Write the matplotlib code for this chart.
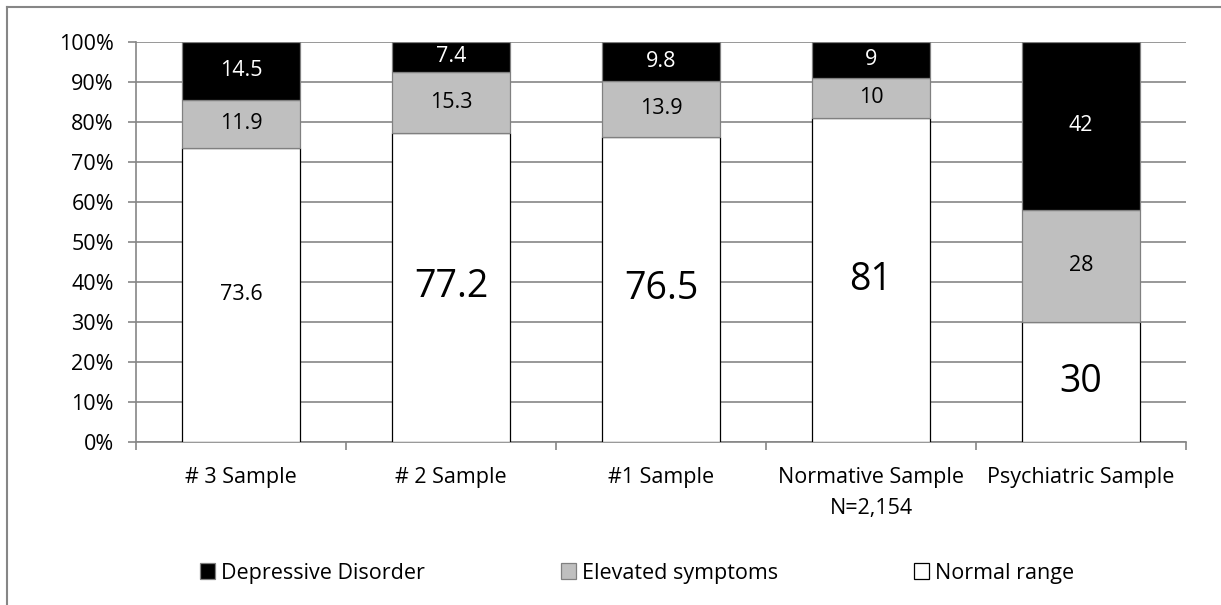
import numpy as np
import matplotlib.pyplot as plt
from matplotlib.patches import Patch
from matplotlib.lines import Line2D

plt.rcParams['font.family'] = ['Open Sans', 'DejaVu Sans']

samples = ['# 3 Sample', '# 2 Sample', '#1 Sample', 'Normative Sample\nN=2,154', 'Psychiatric Sample']
normal = np.array([73.6, 77.2, 76.5, 81, 30])
elevated = np.array([11.9, 15.3, 13.9, 10, 28])
depressive = np.array([14.5, 7.4, 9.8, 9, 42])
big_label = [False, True, True, True, True]

# 100% stacked: scale every column to its own total
total = normal + elevated + depressive
p_norm = normal / total
p_elev = elevated / total
p_dep = depressive / total

W, H = 1221, 605
fs = 15.5
fig = plt.figure(figsize=(W / 100, H / 100), dpi=100)
ax = fig.add_axes([136 / W, 163 / H, 1050 / W, 400 / H])

grey = '#868686'
x = np.arange(len(samples))
bw = 0.562
ax.bar(x, p_norm, bw, color='white', edgecolor='black', linewidth=0.9, zorder=3)
ax.bar(x, p_elev, bw, bottom=p_norm, color='#bfbfbf', edgecolor='#808080', linewidth=0.9, zorder=3)
ax.bar(x, p_dep, bw, bottom=p_norm + p_elev, color='black', edgecolor='#808080', linewidth=0.9, zorder=3)

for i in range(len(x)):
    ax.text(x[i], p_norm[i] / 2, '%g' % normal[i], ha='center', va='center',
            fontsize=27 if big_label[i] else fs, zorder=4)
    ax.text(x[i], p_norm[i] + p_elev[i] / 2, '%g' % elevated[i], ha='center', va='center',
            fontsize=fs, zorder=4)
    ax.text(x[i], p_norm[i] + p_elev[i] + p_dep[i] / 2, '%g' % depressive[i], ha='center',
            va='center', fontsize=fs, color='white', zorder=4)

ax.set_xlim(-0.5, len(x) - 0.5)
ax.set_ylim(0, 1)
ax.set_yticks(np.arange(0, 1.01, 0.1))
ax.set_yticklabels(['%d%%' % v for v in range(0, 101, 10)])
ax.yaxis.grid(True, color=grey, linewidth=1.2)
ax.set_axisbelow(True)

ax.set_xticks(np.arange(-0.5, len(x), 1))
ax.set_xticklabels([])
ax.set_xticks(x, minor=True)
ax.set_xticklabels(samples, minor=True, linespacing=1.65, va='top')
ax.tick_params(axis='x', which='major', direction='out', length=6, color=grey, width=1.2)
ax.tick_params(axis='x', which='minor', length=0, pad=18, labelsize=fs)
ax.tick_params(axis='y', direction='out', length=6, color=grey, width=1.2, pad=10, labelsize=fs)

for s in ['top', 'right']:
    ax.spines[s].set_visible(False)
for s in ['left', 'bottom']:
    ax.spines[s].set_color(grey)
    ax.spines[s].set_linewidth(1.2)

handles = [Patch(facecolor='black', edgecolor='#808080', linewidth=0.9),
           Patch(facecolor='#bfbfbf', edgecolor='#808080', linewidth=0.9),
           Patch(facecolor='white', edgecolor='black', linewidth=0.9)]
fig.legend(handles, ['Depressive Disorder', 'Elevated symptoms', 'Normal range'],
           loc='center', bbox_to_anchor=(637 / W, 1 - 573 / H), ncol=3, frameon=False,
           fontsize=fs, handlelength=0.7, handleheight=0.7, handletextpad=0.3,
           columnspacing=6.3)

# chart frame, only its left and top edges fall inside the image
fig.add_artist(Line2D([7 / W, 7 / W], [0, 1 - 7 / H], color=grey, linewidth=1.5))
fig.add_artist(Line2D([7 / W, 1], [1 - 7 / H, 1 - 7 / H], color=grey, linewidth=1.5))

fig.savefig('out.png', dpi=100)
